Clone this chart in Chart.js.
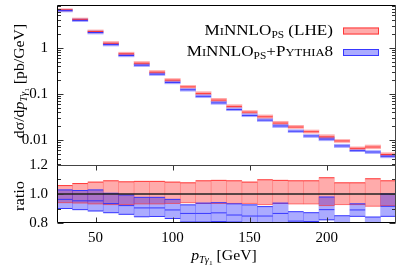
<!DOCTYPE html>
<html><head><meta charset="utf-8">
<script src="https://cdn.jsdelivr.net/npm/chart.js@4"></script>
<style>
html,body{margin:0;padding:0;background:#fff;overflow:hidden}
#wrap{position:relative;width:407px;height:270px}
canvas{position:absolute;left:0;top:0}
</style></head><body>
<div id="wrap"><canvas id="top" width="407" height="270"></canvas><canvas id="rat" width="407" height="270"></canvas></div>
<script>
// ---------- data ----------
const binEdges = [25,35,45,55,65,75,85,95,105,115,125,135,145,155,165,175,185,195,205,215,225,235,245];
const lheCentral = [6.6,4.1,2.24,1.25,0.738,0.463,0.296,0.199,0.142,0.1026,0.0735,0.0537,0.0404,0.032,0.0234,0.0192,0.0152,0.0118,0.0096,0.00665,0.0071,0.0049];
const lheRatioUp   = [1.058,1.072,1.082,1.091,1.084,1.087,1.087,1.082,1.077,1.091,1.094,1.091,1.082,1.098,1.094,1.091,1.091,1.112,1.077,1.077,1.105,1.091];
const lheRatioDown = [0.94,0.938,0.932,0.927,0.927,0.932,0.932,0.935,0.94,0.935,0.935,0.935,0.935,0.927,0.935,0.932,0.932,0.92,0.927,0.927,0.916,0.92];
const py8RatioUp      = [1.028,1.024,1.028,1.005,0.993,0.977,0.977,0.963,0.925,0.937,0.94,0.932,0.925,0.913,0.937,0.878,0.871,0.979,0.85,0.932,0.841,1.0];
const py8RatioCentral = [0.963,0.953,0.953,0.934,0.92,0.904,0.904,0.89,0.866,0.866,0.87,0.855,0.848,0.848,0.866,0.813,0.81,0.892,0.78,0.89,0.78,0.915];
const py8RatioDown    = [0.90,0.892,0.883,0.871,0.86,0.843,0.845,0.831,0.807,0.807,0.81,0.807,0.795,0.79,0.80,0.76,0.75,0.822,0.72,0.846,0.72,0.846];
const xTickValues = [50,100,150,200];
const xTickLabels = ['50','100','150','200'];
const topTickValues = [0.01,0.1,1];
const topTickLabels = ['0.01','0.1','1'];
const ratioTickValues = [0.8,1.0,1.2];
const ratioTickLabels = ['0.8','1.0','1.2'];
const ratioMinorValues = [0.9,1.1];
const legendRows = [
  [['M',15],['I',11],['NNLO',15],['PS',10,3],[' (LHE)',15]],
  [['M',15],['I',11],['NNLO',15],['PS',10,3],['+P',15],['YTHIA',11],['8',15]]
];

// ---------- styles ----------
const SERIF = "'Liberation Serif','Times New Roman',serif";
const redFill = 'rgba(255,0,0,0.33)', blueFill = 'rgba(0,0,255,0.33)';
const redLine = 'rgba(255,50,50,0.95)', blueLine = 'rgba(50,50,255,0.95)';
Chart.defaults.font.family = SERIF;
Chart.defaults.font.size = 15;
Chart.defaults.color = '#000';

function fnt(size, italic){ return (italic?'italic ':'') + size + 'px ' + SERIF; }
function drawRich(ctx, segs, x, y, align, sx){
  sx = sx || 1;
  ctx.save();
  ctx.textAlign='left'; ctx.textBaseline='alphabetic';
  let w=0; for (const s of segs){ ctx.font=fnt(s[1],s[3]); w+=ctx.measureText(s[0]).width; }
  let cx = align==='right' ? -w : (align==='center' ? -w/2 : 0);
  ctx.translate(x,y); ctx.scale(sx,1);
  for (const s of segs){ ctx.font=fnt(s[1],s[3]); ctx.fillText(s[0], cx, (s[2]||0)); cx+=ctx.measureText(s[0]).width; }
  ctx.restore();
}

const centers = binEdges.slice(0,-1).map((e,i)=>(e+binEdges[i+1])/2);
const mul = (a,b)=>a.map((v,i)=>v*b[i]);
const barData = (lo,hi)=>centers.map((c,i)=>({x:c,y:[lo[i],hi[i]]}));
const segData = vals=>vals.flatMap((v,i)=>[{x:binEdges[i],y:v},{x:binEdges[i+1],y:v},{x:binEdges[i+1],y:null}]);
const bandDS = (lo,hi,color,order)=>({type:'bar',data:barData(lo,hi),backgroundColor:color,borderWidth:0,grouped:false,barPercentage:1,categoryPercentage:1,order});
const lineDS = (vals,color,w,order)=>({type:'line',data:segData(vals),borderColor:color,borderWidth:w,pointRadius:0,fill:false,spanGaps:false,order});

const X_MIN = binEdges[0], X_MAX = binEdges[binEdges.length-1];

function yFit(s){ s.width = 57; s.paddingTop = 0; s.paddingBottom = 0; }

function vTicks(ctx, a, y, len, color){
  ctx.strokeStyle = color;
  ctx.beginPath();
  ctx.moveTo(a.left, y); ctx.lineTo(a.left+len, y);
  ctx.moveTo(a.right, y); ctx.lineTo(a.right-len, y);
  ctx.stroke();
}

const topFrame = {
  id:'topFrame',
  afterDraw(chart){
    const {ctx, chartArea:a, scales} = chart; const y = scales.y;
    ctx.save(); ctx.lineWidth = 1;
    const L = Math.round(a.left)+0.5, R = Math.round(a.right)-0.5, T = Math.round(a.top)+0.5, B = Math.round(a.bottom)+0.5;
    const aa = {left:L,right:R};
    for (let k=-3;k<=1;k++) for (let m=1;m<=9;m++){
      const v = m*Math.pow(10,k);
      if (v < y.min || v > y.max) continue;
      const py = Math.round(y.getPixelForValue(v))+0.5;
      vTicks(ctx, aa, py, m===1?6:3.5, '#333');
    }
    ctx.strokeStyle='#444'; ctx.beginPath(); ctx.moveTo(R,T); ctx.lineTo(R,B); ctx.stroke();
    ctx.strokeStyle='#000'; ctx.beginPath(); ctx.moveTo(L,B); ctx.lineTo(L,T); ctx.lineTo(R,T); ctx.stroke();
    // legend
    ctx.fillStyle='#000';
    const rows = [{y:34.5, fill:redFill, stroke:redLine},{y:56, fill:blueFill, stroke:blueLine}];
    rows.forEach((r,i)=>{
      ctx.fillStyle='#000';
      drawRich(ctx, legendRows[i], 333, r.y, 'right', 1.14);
      ctx.fillStyle = r.fill; ctx.fillRect(343, r.y-7, 36, 7);
      ctx.strokeStyle = r.stroke; ctx.strokeRect(343.5, r.y-6.5, 35, 6);
    });
    // y title
    ctx.fillStyle='#000';
    ctx.save(); ctx.translate(24, 81); ctx.rotate(-Math.PI/2);
    drawRich(ctx, [['dσ/d',15],['p',15,0,true],['T',10,3,true],['γ',10,3,true],['1',7,5],[' [pb/GeV]',15]], 0, 0, 'center', 1.05);
    ctx.restore();
    ctx.restore();
  }
};

const ratFrame = {
  id:'ratFrame',
  afterDatasetsDraw(chart){
    const {ctx, chartArea:a, scales} = chart; const y = scales.y;
    ctx.save(); ctx.lineWidth = 1.3; ctx.strokeStyle = '#222';
    const p1 = y.getPixelForValue(1.0);
    ctx.beginPath(); ctx.moveTo(a.left, p1); ctx.lineTo(a.right, p1); ctx.stroke();
    ctx.restore();
  },
  afterDraw(chart){
    const {ctx, chartArea:a, scales} = chart; const x = scales.x, y = scales.y;
    ctx.save(); ctx.lineWidth = 1;
    const L = Math.round(a.left)+0.5, R = Math.round(a.right)-0.5, T = Math.round(a.top)+0.5, B = Math.round(a.bottom)-0.5;
    const aa = {left:L,right:R};
    ratioTickValues.forEach(v=>vTicks(ctx, aa, Math.round(y.getPixelForValue(v))+0.5, 6, '#333'));
    ratioMinorValues.forEach(v=>vTicks(ctx, aa, Math.round(y.getPixelForValue(v))+0.5, 3.5, '#333'));
    ctx.strokeStyle='#333';
    xTickValues.forEach(v=>{
      const px = Math.round(x.getPixelForValue(v))+0.5;
      ctx.beginPath(); ctx.moveTo(px,T); ctx.lineTo(px,T+5); ctx.moveTo(px,B); ctx.lineTo(px,B-5); ctx.stroke();
    });
    ctx.strokeStyle='#444'; ctx.beginPath(); ctx.moveTo(L,T); ctx.lineTo(R,T); ctx.lineTo(R,B); ctx.stroke();
    ctx.strokeStyle='#000'; ctx.beginPath(); ctx.moveTo(L,T); ctx.lineTo(L,B); ctx.lineTo(R,B); ctx.stroke();
    ctx.fillStyle='#000';
    ctx.save(); ctx.translate(24, 196); ctx.rotate(-Math.PI/2);
    drawRich(ctx, [['ratio',15]], 0, 0, 'center', 1.1);
    ctx.restore();
    drawRich(ctx, [['p',15,0,true],['T',10,3,true],['γ',10,3,true],['1',7,5],[' [GeV]',15]], 224, 260, 'center', 1.05);
    ctx.restore();
  }
};

const common = {
  responsive:false, animation:false, events:[],
  plugins:{legend:{display:false}, tooltip:{enabled:false}}
};

new Chart(document.getElementById('top'), {
  type:'bar',
  data:{datasets:[
    lineDS(mul(lheCentral,py8RatioCentral), blueLine, 1, 0),
    lineDS(lheCentral, redLine, 1, 1),
    bandDS(mul(lheCentral,py8RatioDown), mul(lheCentral,py8RatioUp), blueFill, 2),
    bandDS(mul(lheCentral,lheRatioDown), mul(lheCentral,lheRatioUp), redFill, 3)
  ]},
  options:Object.assign({}, common, {
    layout:{padding:{left:0,right:11,top:5,bottom:105}},
    scales:{
      x:{type:'linear', display:false, min:X_MIN, max:X_MAX, offset:false},
      y:{type:'logarithmic', min:0.0029, max:8.4, beginAtZero:false,
         grid:{display:false, drawTicks:false}, border:{display:false},
         ticks:{padding:9, font:{size:15}, callback:(v)=>{const i=topTickValues.indexOf(v); return i>=0?topTickLabels[i]:'';}},
         afterBuildTicks:s=>{s.ticks = topTickValues.map(v=>({value:v}));},
         afterFit:yFit}
    }
  }),
  plugins:[topFrame]
});

new Chart(document.getElementById('rat'), {
  type:'bar',
  data:{datasets:[
    lineDS(py8RatioCentral, blueLine, 1, 0),
    lineDS(py8RatioUp, blueLine, 1, 0),
    lineDS(py8RatioDown, blueLine, 1, 0),
    lineDS(lheRatioUp, redLine, 1, 1),
    lineDS(lheRatioDown, 'rgba(255,60,60,0.6)', 1, 1),
    bandDS(py8RatioDown, py8RatioUp, blueFill, 2),
    bandDS(lheRatioDown, lheRatioUp, redFill, 3)
  ]},
  options:Object.assign({}, common, {
    layout:{padding:{left:0,right:11,top:165,bottom:0}},
    scales:{
      x:{type:'linear', min:X_MIN, max:X_MAX, offset:false,
         grid:{display:false, drawTicks:false}, border:{display:false},
         ticks:{padding:6, maxRotation:0, autoSkip:false, font:{size:15}, callback:(v)=>{const i=xTickValues.indexOf(v); return i>=0?xTickLabels[i]:'';}},
         afterBuildTicks:s=>{s.ticks = xTickValues.map(v=>({value:v}));},
         afterFit:s=>{s.height = 47; s.paddingLeft = 0; s.paddingRight = 0;}},
      y:{type:'linear', min:0.8, max:1.2, beginAtZero:false,
         grid:{display:false, drawTicks:false}, border:{display:false},
         ticks:{padding:9, font:{size:15}, callback:(v)=>{const i=ratioTickValues.findIndex(t=>Math.abs(t-v)<1e-9); return i>=0?ratioTickLabels[i]:'';}},
         afterBuildTicks:s=>{s.ticks = ratioTickValues.map(v=>({value:v}));},
         afterFit:yFit}
    }
  }),
  plugins:[ratFrame]
});
</script>
</body></html>
